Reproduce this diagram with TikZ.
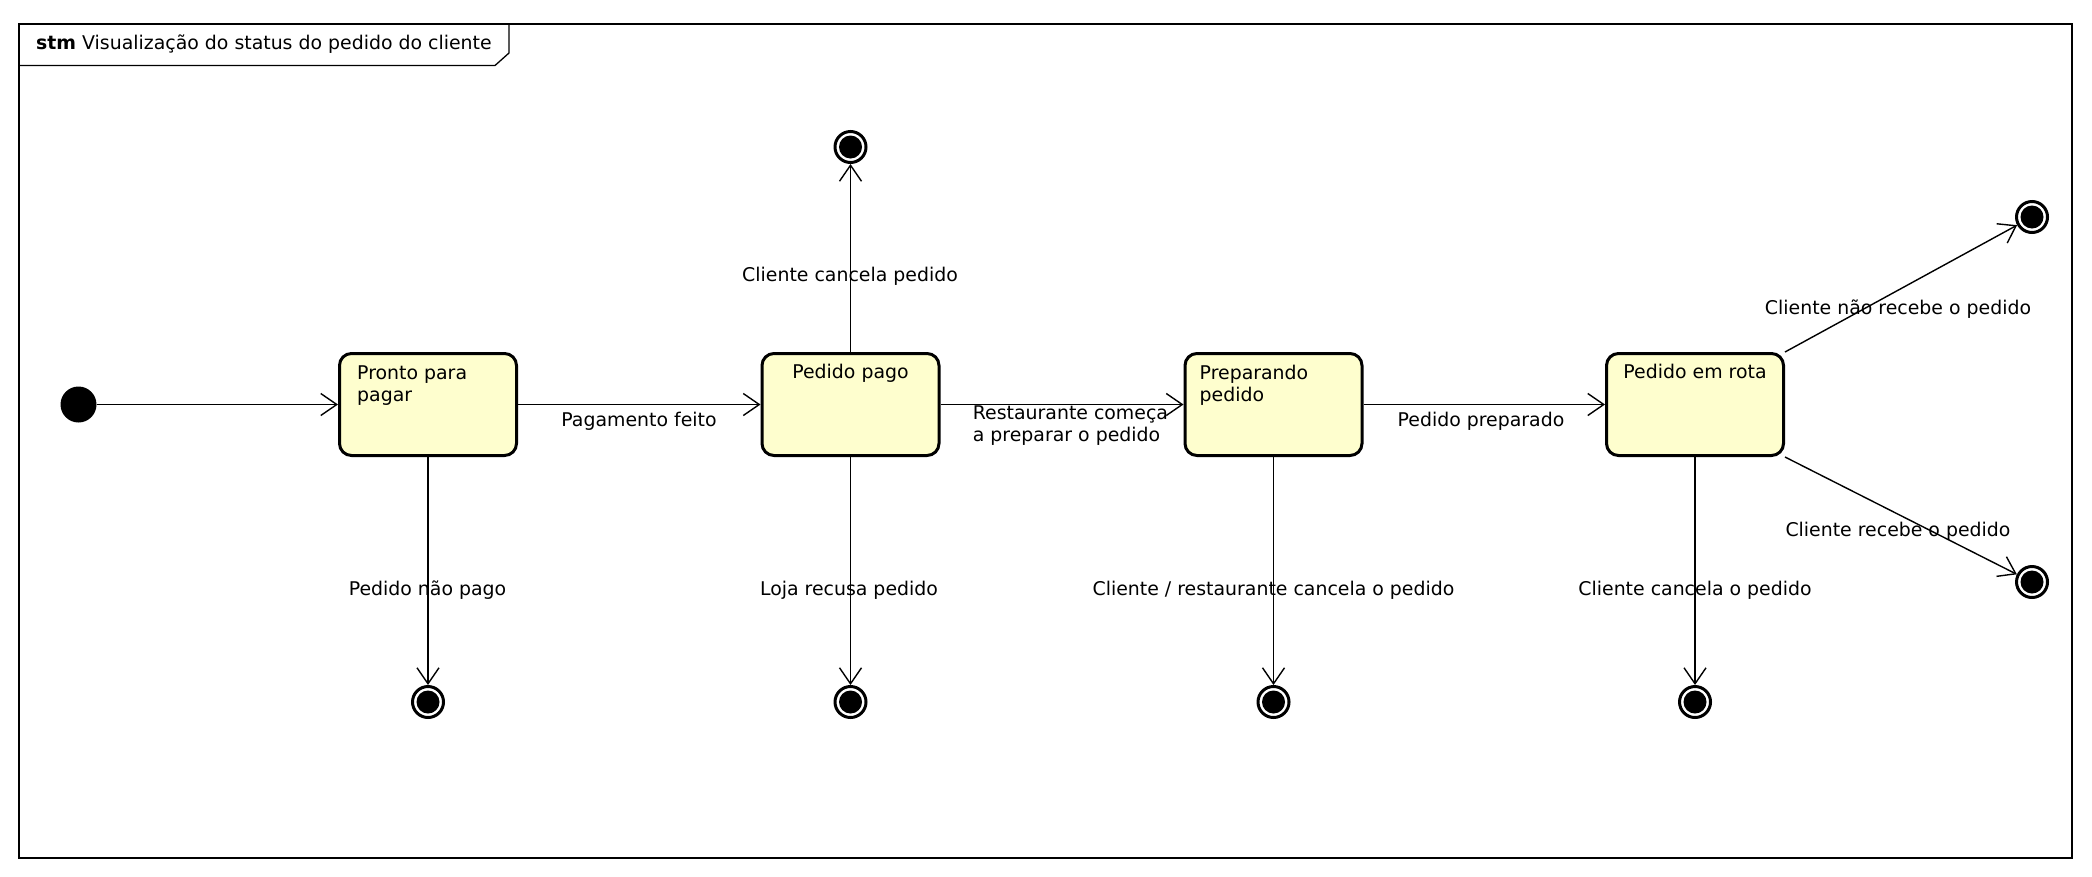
\documentclass[tikz,border=0pt]{standalone}
\usepackage{fontspec}
\setmainfont{DejaVu Sans}
\usetikzlibrary{arrows.meta}
\definecolor{statefill}{HTML}{FEFECE}
\begin{document}
\begin{tikzpicture}[x=1pt,y=-1pt,
  every node/.style={font=\fontsize{18.9}{22.4}\selectfont},
  state/.style={draw, line width=3pt, fill=statefill, rounded corners=12pt,
    minimum width=177pt, minimum height=102pt, inner sep=0pt},
  init/.style={circle, fill=black, minimum size=36pt, inner sep=0pt},
  final/.style={circle, draw, line width=3pt, fill=white, minimum size=31pt,
    inner sep=0pt,
    path picture={\fill[black] (path picture bounding box.center) circle (11.5pt);}},
  trans/.style={line width=1.4pt,
    -{Straight Barb[length=16pt,width=22pt,line width=1.4pt]}},
  lbl/.style={inner sep=0pt, anchor=base},
  stxt/.style={inner sep=0pt, anchor=north west, align=left}
]
\useasboundingbox (0,0) rectangle (2092,876);

% frame and title tab
\draw[line width=2pt] (19,23.5) rectangle (2072,858);
\draw[line width=1.3pt] (19,65.5) -- (495,65.5) -- (509,53) -- (509,23.5);
\node[inner sep=0pt, anchor=base west] (title) at (36,49.5)
  {\textbf{stm} Visualização do status do pedido do cliente};

% states
\node[init] (i0) at (78.5,404.5) {};
\node[state] (s1) at (428,404.5) {};
\node[state] (s2) at (850.5,404.5) {};
\node[state] (s3) at (1273.5,404.5) {};
\node[state] (s4) at (1695,404.5) {};

\node[stxt] (s1t) at ([shift={(19,13.5)}]s1.north west) {Pronto para\\pagar};
\node[lbl] (s2t) at ([shift={(0,26)}]s2.north) {Pedido pago};
\node[stxt] (s3t) at ([shift={(16,12.9)}]s3.north west) {Preparando\\pedido};
\node[lbl] (s4t) at ([shift={(0,26)}]s4.north) {Pedido em rota};

% final states
\node[final] (f1) at (428,702) {};
\node[final] (f2) at (850.5,702) {};
\node[final] (f3) at (1273.5,702) {};
\node[final] (f4) at (1695,702) {};
\node[final] (ftop) at (850.5,147) {};
\node[final] (fr1) at (2032,217) {};
\node[final] (fr2) at (2032,582) {};

% transitions
\draw[trans] (i0.east) -- (s1.west);
\draw[trans] (s1.east) -- (s2.west);
\draw[trans] (s2.east) -- (s3.west);
\draw[trans] (s3.east) -- (s4.west);
\draw[trans] (s1.south) -- (f1);
\draw[trans] (s2.south) -- (f2);
\draw[trans] (s3.south) -- (f3);
\draw[trans] (s4.south) -- (f4);
\draw[trans] (s2.north) -- (ftop);
\draw[trans] (s4.north east) -- (fr1);
\draw[trans] (s4.south east) -- (fr2);

% transition labels
\node[lbl] (l12) at (639,426.7) {Pagamento feito};
\node[stxt] (l23) at (972.7,405.5) {Restaurante começa\\a preparar o pedido};
\node[lbl] (l34) at (1481,426.7) {Pedido preparado};
\node[lbl] (l1f) at (427.5,595) {Pedido não pago};
\node[lbl] (l2f) at (849,595) {Loja recusa pedido};
\node[lbl] (l3f) at (1273.5,595) {Cliente / restaurante cancela o pedido};
\node[lbl] (l4f) at (1695,595) {Cliente cancela o pedido};
\node[lbl] (l2t) at (850,281.7) {Cliente cancela pedido};
\node[lbl] (l4t) at (1898,314.3) {Cliente não recebe o pedido};
\node[lbl] (l4b) at (1898,536) {Cliente recebe o pedido};
\end{tikzpicture}
\end{document}
